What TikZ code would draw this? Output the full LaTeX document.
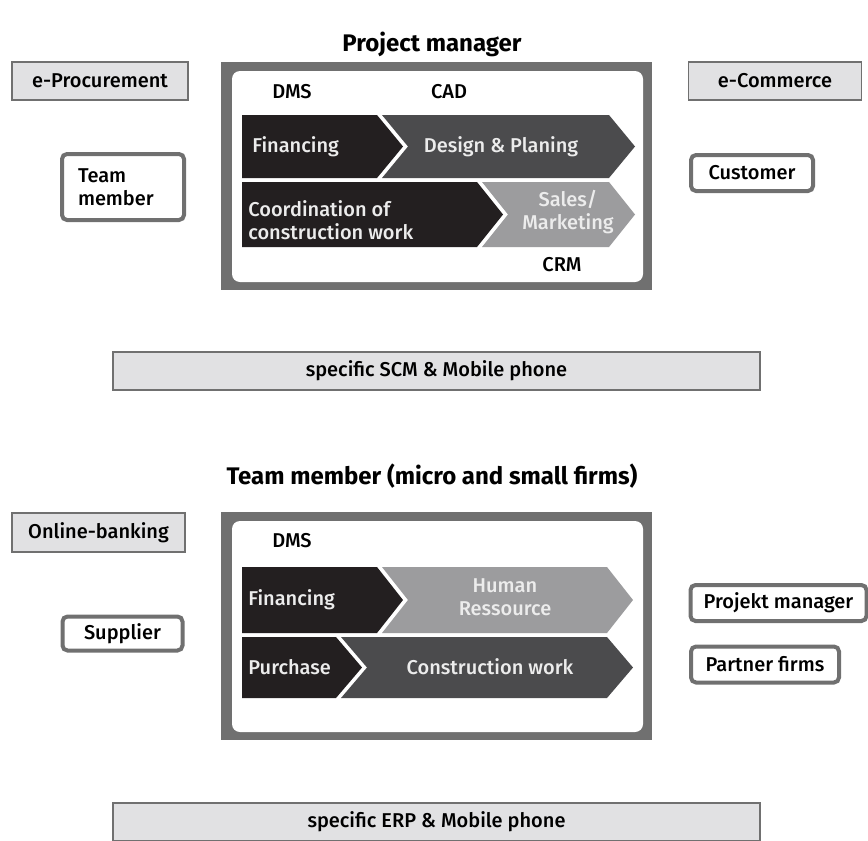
\documentclass[tikz,border=0pt]{standalone}
\usepackage{fontspec}
\setmainfont{Fira Sans}[UprightFont={* Medium}, BoldFont={* Bold}]
\usepackage{tikz}
\usetikzlibrary{positioning}
\definecolor{darkchev}{HTML}{231F20}
\definecolor{midchev}{HTML}{4B4B4D}
\definecolor{lightchev}{HTML}{9C9C9E}
\definecolor{framegray}{HTML}{707070}
\definecolor{boxfill}{HTML}{E1E1E3}
\definecolor{chevtxt}{HTML}{ECECEC}
\tikzset{
  graybox/.style={draw=framegray, line width=0.6pt, fill=boxfill, inner sep=0pt},
  whitebox/.style={draw=framegray, line width=2pt, fill=white, rounded corners=2.5pt, inner sep=0pt},
  chevtext/.style={text=chevtxt, align=center, inner sep=0pt},
  headline/.style={font=\fontsize{12}{14}\selectfont\bfseries}
}
% first chevron of a row: x1, x2, ytop, ymid, ybot, colour
\newcommand{\chevfirst}[6]{\fill[#6] (#1,#3) -- (#2,#3) -- ([xshift=13pt]#2,#4) -- (#2,#5) -- (#1,#5) -- cycle;}
% notched chevron
\newcommand{\chevnext}[6]{\fill[#6] (#1,#3) -- (#2,#3) -- ([xshift=13pt]#2,#4) -- (#2,#5) -- (#1,#5) -- ([xshift=13pt]#1,#4) -- cycle;}

\begin{document}
\begin{tikzpicture}[x=0.5pt,y=-0.5pt,font=\fontsize{10}{11.5}\selectfont]
\useasboundingbox (0,0) rectangle (868,841);
%project manager part
\node[headline] (title1) at (432,44) {Project manager};
%outer frame
\fill[framegray] (221,62) rectangle (652,290);
\fill[white, rounded corners=4pt] (232,71) rectangle (643,282);
\node (dms1) at (292,92) {DMS}; \node (cad) at (449,92) {CAD};
%chevrons row 1
\chevfirst{242}{377}{115}{146.5}{178}{darkchev}
\chevnext{382}{609}{115}{146.5}{178}{midchev}
\node[chevtext, anchor=west] (fin1) at (252,147) {Financing};
\node[chevtext] (design) at (501,147) {Design \& Planing};
%chevrons row 2
\chevfirst{242}{477}{182}{214.5}{247}{darkchev}
\chevnext{482}{609}{182}{214.5}{247}{lightchev}
\node[chevtext, anchor=west, align=left] (coord) at (248,220) {Coordination of\\construction work};
\node[chevtext] (sales) at (568,212) {Sales/\\Marketing};
\node (crm) at (562,265) {CRM};
%boxes round it
\node[graybox, minimum width=88pt, minimum height=19pt] (procure) at (100,81) {e-Procurement};
\node[whitebox, minimum width=61pt, minimum height=33pt, text width=45pt, align=left] (teammember) at (123,187) {Team\\member};
\node[graybox, minimum width=86.5pt, minimum height=19pt] (commerce) at (775,81) {e-Commerce};
\node[whitebox, minimum width=61pt, minimum height=18pt] (customer) at (752,173) {Customer};
\node[graybox, minimum width=323.5pt, minimum height=19pt] (scm) at (436.5,371) {specific SCM \& Mobile phone};
%team member part
\node[headline] (title2) at (432,476) {Team member (micro and small firms)};
\fill[framegray] (221,512) rectangle (652,740);
\fill[white, rounded corners=4pt] (232,521) rectangle (643,732);
\node (dms2) at (292,541) {DMS};
%chevrons row 1
\chevfirst{242}{377}{567}{600}{633}{darkchev}
\chevnext{382}{607}{567}{600}{633}{lightchev}
\node[chevtext, anchor=west] (fin2) at (248,600) {Financing};
\node[chevtext] (human) at (505,597) {Human\\Ressource};
%chevrons row 2
\chevfirst{242}{336}{637}{667.5}{698}{darkchev}
\chevnext{341}{607}{637}{667.5}{698}{midchev}
\node[chevtext, anchor=west] (purchase) at (248,667) {Purchase};
\node[chevtext] (constr) at (490,667) {Construction work};
%boxes round it
\node[graybox, minimum width=86.5pt, minimum height=19.5pt] (banking) at (98.5,532.5) {Online-banking};
\node[whitebox, minimum width=60pt, minimum height=17pt] (supplier) at (122.5,633.5) {Supplier};
\node[whitebox, minimum width=88pt, minimum height=18pt] (projekt) at (778.5,603) {Projekt manager};
\node[whitebox, minimum width=74pt, minimum height=18pt] (partner) at (765,664.5) {Partner firms};
\node[graybox, minimum width=323.5pt, minimum height=19pt] (erp) at (436.5,822) {specific ERP \& Mobile phone};
\end{tikzpicture}
\end{document}
